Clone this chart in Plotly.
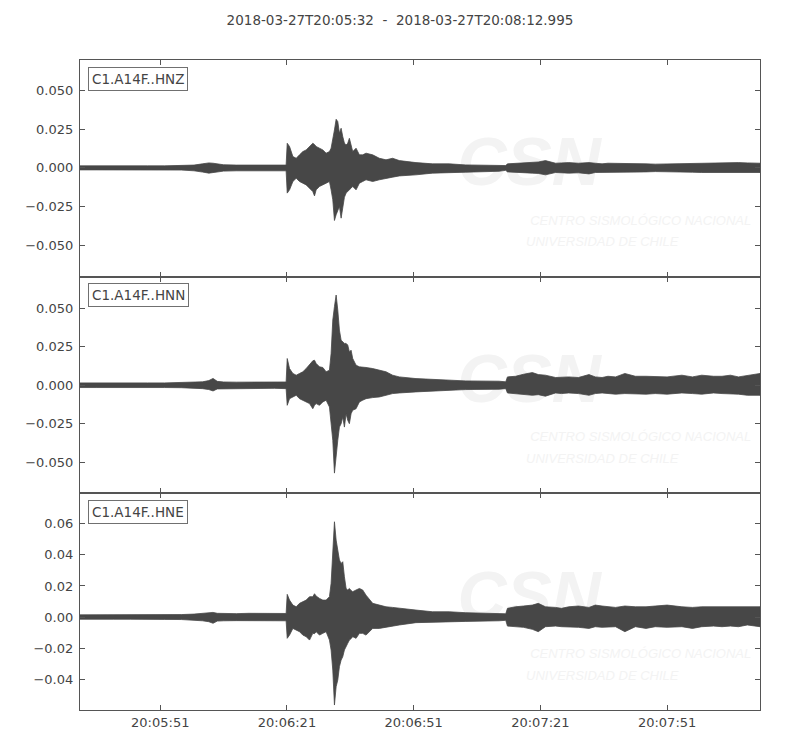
import pandas as pd
import plotly.graph_objects as go
from plotly.subplots import make_subplots

# ---------------- data ----------------
START = "2018-03-27T20:05:32"
END = "2018-03-27T20:08:12.995"
TITLE = "2018-03-27T20:05:32\u00a0\u00a0-\u00a0\u00a02018-03-27T20:08:12.995"
CHANNELS = ["C1.A14F..HNZ", "C1.A14F..HNN", "C1.A14F..HNE"]
TICK_TIMES = ["2018-03-27 20:05:51", "2018-03-27 20:06:21", "2018-03-27 20:06:51",
              "2018-03-27 20:07:21", "2018-03-27 20:07:51"]
TICK_LABELS = ["20:05:51", "20:06:21", "20:06:51", "20:07:21", "20:07:51"]
WATERMARK = ["CSN", "CENTRO SISMOLÓGICO NACIONAL", "UNIVERSIDAD DE CHILE"]

# envelope sample times, seconds after START
T_PRE = [0, 4, 8, 12, 16, 20, 24, 27, 29, 30.5, 31.5, 32.5, 34, 37, 40, 43, 46, 48.8]
T_MAIN = [49.06, 49.61, 50.40, 51.19, 51.97, 52.76, 53.55, 54.34, 55.12, 55.52, 55.91,
          56.70, 57.49, 58.27, 59.06, 59.45, 59.85, 60.24, 60.64, 61.03, 61.42, 61.82,
          62.21, 62.60, 63.00, 63.39, 63.78, 64.18, 64.57, 65.36, 66.15, 66.93, 67.72,
          69.30, 70.87, 72.45, 74.02, 75.60, 79.54, 83.47, 87.41, 91.35, 99.22]
T_POST = [100.8, 101.2, 103.1, 105, 107.1, 108.5, 110.2, 112.6, 114, 115.7, 118, 120.5,
          122, 123.6, 125, 126.8, 129, 131.5, 134, 136.2, 139, 142.5, 145, 147.2, 150,
          152, 154, 155.9, 158, 161]

# HNZ envelope (upper / lower)
HNZ_UP = ([0.0013, 0.0012, 0.0013, 0.0012, 0.0013, 0.0013, 0.0014, 0.0018, 0.0026, 0.0032,
           0.0030, 0.0024, 0.0020, 0.0018, 0.0019, 0.0018, 0.0019, 0.0018]
          + [0.0159, 0.0138, 0.0073, 0.0062, 0.0084, 0.0105, 0.0116, 0.0138, 0.0159, 0.0151,
             0.0138, 0.0127, 0.0116, 0.0095, 0.0105, 0.0127, 0.0181, 0.0245, 0.0314, 0.0299,
             0.0224, 0.0256, 0.0202, 0.0160, 0.0148, 0.0159, 0.0191, 0.0138, 0.0105, 0.0127,
             0.0084, 0.0084, 0.0095, 0.0084, 0.0062, 0.0052, 0.0062, 0.0047, 0.0034, 0.0026,
             0.0026, 0.0019, 0.0017]
          + [0.0015, 0.0026, 0.0030, 0.0032, 0.0034, 0.0038, 0.0047, 0.0030, 0.0032, 0.0034,
             0.0030, 0.0034, 0.0030, 0.0026, 0.0030, 0.0030, 0.0028, 0.0026, 0.0026, 0.0024,
             0.0026, 0.0026, 0.0028, 0.0030, 0.0030, 0.0034, 0.0034, 0.0034, 0.0032, 0.0030])
HNZ_LO = ([-0.0013, -0.0013, -0.0012, -0.0013, -0.0012, -0.0013, -0.0014, -0.0019, -0.0027,
           -0.0034, -0.0031, -0.0025, -0.0021, -0.0019, -0.0018, -0.0019, -0.0018, -0.0019]
          + [-0.0163, -0.0142, -0.0088, -0.0067, -0.0088, -0.0099, -0.0110, -0.0131, -0.0153,
             -0.0181, -0.0142, -0.0120, -0.0110, -0.0099, -0.0088, -0.0142, -0.0206, -0.0340,
             -0.0303, -0.0271, -0.0249, -0.0325, -0.0260, -0.0190, -0.0163, -0.0153, -0.0142,
             -0.0131, -0.0120, -0.0142, -0.0099, -0.0088, -0.0077, -0.0088, -0.0077, -0.0067,
             -0.0060, -0.0052, -0.0045, -0.0034, -0.0030, -0.0028, -0.0022]
          + [-0.0016, -0.0026, -0.0030, -0.0032, -0.0034, -0.0036, -0.0045, -0.0030, -0.0032,
             -0.0034, -0.0032, -0.0039, -0.0030, -0.0026, -0.0028, -0.0030, -0.0028, -0.0026,
             -0.0026, -0.0024, -0.0026, -0.0026, -0.0028, -0.0030, -0.0032, -0.0034, -0.0032,
             -0.0030, -0.0030, -0.0030])

# HNN envelope
HNN_UP = ([0.0015, 0.0014, 0.0015, 0.0014, 0.0015, 0.0015, 0.0016, 0.0018, 0.0022, 0.0030,
           0.0044, 0.0025, 0.0021, 0.0020, 0.0021, 0.0020, 0.0022, 0.0021]
          + [0.0173, 0.0108, 0.0076, 0.0065, 0.0076, 0.0087, 0.0108, 0.0130, 0.0158, 0.0162,
             0.0141, 0.0119, 0.0115, 0.0087, 0.0097, 0.0206, 0.0422, 0.0509, 0.0584, 0.0487,
             0.0357, 0.0292, 0.0281, 0.0271, 0.0271, 0.0260, 0.0216, 0.0227, 0.0173, 0.0130,
             0.0119, 0.0115, 0.0115, 0.0108, 0.0097, 0.0087, 0.0065, 0.0054, 0.0043, 0.0037,
             0.0032, 0.0028, 0.0026]
          + [0.0022, 0.0054, 0.0058, 0.0071, 0.0082, 0.0069, 0.0065, 0.0050, 0.0054, 0.0054,
             0.0050, 0.0069, 0.0054, 0.0050, 0.0058, 0.0054, 0.0076, 0.0058, 0.0058, 0.0058,
             0.0054, 0.0065, 0.0054, 0.0065, 0.0058, 0.0058, 0.0065, 0.0054, 0.0063, 0.0076])
HNN_LO = ([-0.0015, -0.0015, -0.0014, -0.0015, -0.0014, -0.0015, -0.0016, -0.0018, -0.0022,
           -0.0028, -0.0037, -0.0024, -0.0021, -0.0021, -0.0020, -0.0021, -0.0020, -0.0022]
          + [-0.0130, -0.0087, -0.0076, -0.0065, -0.0087, -0.0097, -0.0108, -0.0119, -0.0152,
             -0.0130, -0.0119, -0.0130, -0.0108, -0.0097, -0.0141, -0.0227, -0.0357, -0.0569,
             -0.0444, -0.0357, -0.0271, -0.0249, -0.0206, -0.0271, -0.0184, -0.0227, -0.0249,
             -0.0184, -0.0162, -0.0152, -0.0108, -0.0097, -0.0087, -0.0080, -0.0076, -0.0065,
             -0.0054, -0.0050, -0.0043, -0.0037, -0.0032, -0.0028, -0.0026]
          + [-0.0022, -0.0050, -0.0054, -0.0061, -0.0065, -0.0061, -0.0071, -0.0050, -0.0054,
             -0.0050, -0.0054, -0.0065, -0.0054, -0.0050, -0.0054, -0.0058, -0.0054, -0.0054,
             -0.0058, -0.0054, -0.0058, -0.0050, -0.0054, -0.0058, -0.0050, -0.0054, -0.0058,
             -0.0058, -0.0065, -0.0065])

# HNE envelope
HNE_UP = ([0.0014, 0.0014, 0.0013, 0.0014, 0.0014, 0.0015, 0.0016, 0.0019, 0.0023, 0.0026,
           0.0030, 0.0024, 0.0023, 0.0022, 0.0024, 0.0023, 0.0024, 0.0023]
          + [0.0146, 0.0109, 0.0077, 0.0066, 0.0088, 0.0099, 0.0109, 0.0131, 0.0131, 0.0150,
             0.0135, 0.0120, 0.0109, 0.0109, 0.0131, 0.0217, 0.0431, 0.0613, 0.0495, 0.0420,
             0.0367, 0.0345, 0.0356, 0.0259, 0.0184, 0.0174, 0.0184, 0.0171, 0.0163, 0.0174,
             0.0184, 0.0174, 0.0141, 0.0088, 0.0077, 0.0066, 0.0062, 0.0056, 0.0045, 0.0034,
             0.0034, 0.0028, 0.0024]
          + [0.0021, 0.0056, 0.0066, 0.0071, 0.0077, 0.0088, 0.0066, 0.0062, 0.0056, 0.0066,
             0.0071, 0.0062, 0.0077, 0.0071, 0.0066, 0.0062, 0.0071, 0.0066, 0.0066, 0.0071,
             0.0077, 0.0066, 0.0062, 0.0066, 0.0066, 0.0062, 0.0066, 0.0066, 0.0062, 0.0066])
HNE_LO = ([-0.0014, -0.0013, -0.0014, -0.0014, -0.0013, -0.0015, -0.0016, -0.0019, -0.0024,
           -0.0030, -0.0040, -0.0026, -0.0024, -0.0023, -0.0024, -0.0024, -0.0023, -0.0024]
          + [-0.0137, -0.0116, -0.0073, -0.0084, -0.0094, -0.0116, -0.0126, -0.0148, -0.0105,
             -0.0107, -0.0094, -0.0116, -0.0105, -0.0094, -0.0148, -0.0212, -0.0341, -0.0566,
             -0.0448, -0.0405, -0.0319, -0.0277, -0.0255, -0.0212, -0.0191, -0.0169, -0.0148,
             -0.0139, -0.0126, -0.0137, -0.0105, -0.0105, -0.0116, -0.0073, -0.0073, -0.0062,
             -0.0058, -0.0051, -0.0036, -0.0032, -0.0030, -0.0028, -0.0024]
          + [-0.0021, -0.0058, -0.0062, -0.0066, -0.0079, -0.0094, -0.0062, -0.0058, -0.0062,
             -0.0066, -0.0066, -0.0073, -0.0062, -0.0066, -0.0066, -0.0062, -0.0094, -0.0062,
             -0.0073, -0.0062, -0.0066, -0.0062, -0.0073, -0.0062, -0.0058, -0.0062, -0.0058,
             -0.0062, -0.0051, -0.0062])

Y_RANGES = [[-0.0703, 0.0697], [-0.0700, 0.0703], [-0.0598, 0.0796]]
Y_DTICK = [0.025, 0.025, 0.02]
Y_FORMAT = [".3f", ".3f", ".2f"]

# ---------------- figure ----------------
TRACE_COLOR = "#474747"
AXIS_COLOR = "#555555"
TEXT_COLOR = "#444444"
WM_COLOR = "#f3f3f3"
FONT = "DejaVu Sans, Verdana, sans-serif"
FIG_W, FIG_H = 792, 742   # page adds an 8px body margin

t0 = pd.Timestamp(START)
t1 = pd.Timestamp(END)
TIME_S = T_PRE + T_MAIN + T_POST


def to_iso(ts):
    return ts.strftime("%Y-%m-%d %H:%M:%S.%f")


times = [to_iso(t0 + pd.Timedelta(seconds=s)) for s in TIME_S]


def frac_time(f):
    return to_iso(t0 + (t1 - t0) * f)


fig = make_subplots(rows=3, cols=1, shared_xaxes=True, vertical_spacing=0)

envelopes = [(HNZ_UP, HNZ_LO), (HNN_UP, HNN_LO), (HNE_UP, HNE_LO)]
for i, (up, lo) in enumerate(envelopes):
    row = i + 1
    assert len(up) == len(TIME_S) and len(lo) == len(TIME_S)
    yr = Y_RANGES[i]
    span = yr[1] - yr[0]
    # faint watermark (drawn first so it sits beneath the trace)
    fig.add_trace(go.Scatter(
        x=[frac_time(0.555)], y=[yr[0] + 0.50 * span], mode="text", text=[WATERMARK[0]],
        textposition="middle right",
        textfont=dict(family="Liberation Sans, Arial, sans-serif", size=68, color=WM_COLOR,
                      weight="bold", style="italic"),
        hoverinfo="skip", showlegend=False), row=row, col=1)
    fig.add_trace(go.Scatter(
        x=[frac_time(0.662), frac_time(0.656)],
        y=[yr[0] + 0.255 * span, yr[0] + 0.155 * span], mode="text",
        text=WATERMARK[1:],
        textposition="middle right",
        textfont=dict(family="Liberation Sans, Arial, sans-serif", size=13,
                      color=WM_COLOR, style="italic"),
        hoverinfo="skip", showlegend=False), row=row, col=1)
    # waveform envelope
    fig.add_trace(go.Scatter(
        x=times + times[::-1], y=list(up) + list(lo)[::-1],
        mode="lines", fill="toself", fillcolor=TRACE_COLOR,
        line=dict(color=TRACE_COLOR, width=0.8),
        hoverinfo="skip", showlegend=False), row=row, col=1)

    fig.update_yaxes(
        range=yr, dtick=Y_DTICK[i], tick0=0, tickformat=Y_FORMAT[i],
        ticks="inside", ticklen=5, tickcolor=AXIS_COLOR, mirror="ticks",
        showline=True, linecolor=AXIS_COLOR, linewidth=1.2, showgrid=False, zeroline=False,
        ticklabelstandoff=3,
        tickfont=dict(family=FONT, size=13, color=TEXT_COLOR),
        row=row, col=1)
    fig.update_xaxes(
        type="date", range=[to_iso(t0), to_iso(t1)],
        tickvals=TICK_TIMES, ticktext=TICK_LABELS,
        ticks="inside", ticklen=5, tickcolor=AXIS_COLOR, mirror="ticks",
        showline=True, linecolor=AXIS_COLOR, linewidth=1.2, showgrid=False, zeroline=False,
        tickfont=dict(family=FONT, size=13, color=TEXT_COLOR),
        row=row, col=1)

    yref = "y domain" if row == 1 else f"y{row} domain"
    xref = "x domain" if row == 1 else f"x{row} domain"
    fig.add_annotation(
        text=CHANNELS[i], xref=xref, yref=yref, x=0.012, y=0.97,
        xanchor="left", yanchor="top", showarrow=False,
        font=dict(family=FONT, size=13.5, color=TEXT_COLOR),
        bgcolor="white", bordercolor="#707070", borderwidth=1, borderpad=3)

fig.update_layout(
    width=FIG_W, height=FIG_H,
    margin=dict(l=72, r=40, t=52, b=40),
    paper_bgcolor="white", plot_bgcolor="white",
    showlegend=False,
    title=dict(text=TITLE, x=392 / FIG_W, xref="container", xanchor="center",
               y=1 - 12 / FIG_H, yref="container", yanchor="middle",
               font=dict(family=FONT, size=13.5, color=TEXT_COLOR)),
)

fig.write_html("out.html")
